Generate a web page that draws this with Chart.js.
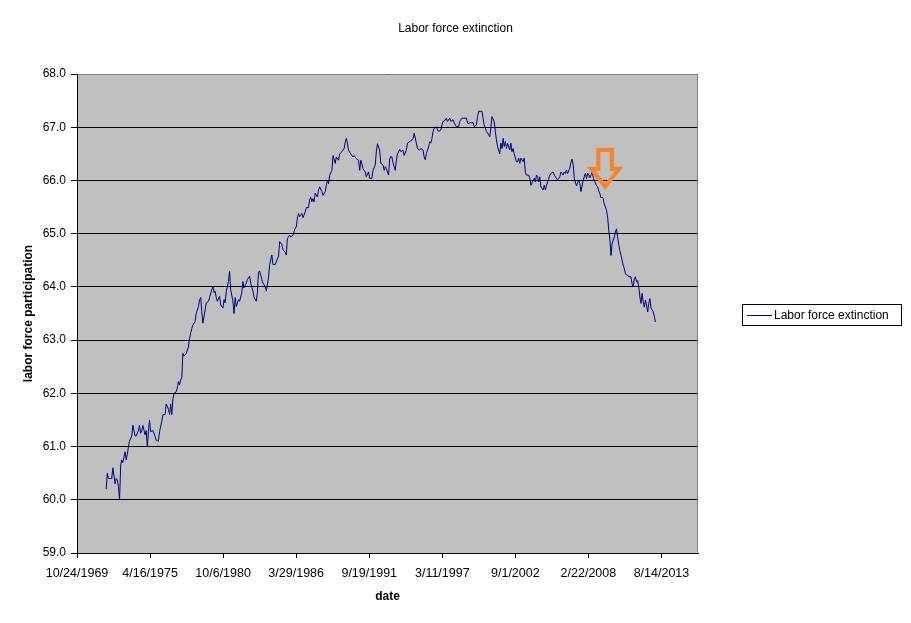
<!DOCTYPE html>
<html><head><meta charset="utf-8">
<script src="https://cdn.jsdelivr.net/npm/chart.js@4.4.1/dist/chart.umd.min.js"></script>
<style>html,body{margin:0;padding:0;background:#fff;}#wrap{width:911px;height:623px;position:relative;}</style>
</head><body><div id="wrap"><canvas id="c"></canvas></div>
<script>
const chartTitle = "Labor force extinction";
const seriesName = "Labor force extinction";
const xAxisTitle = "date";
const yAxisTitle = "labor force participation";
const xTickLabels = ["10/24/1969","4/16/1975","10/6/1980","3/29/1986","9/19/1991","3/11/1997","9/1/2002","2/22/2008","8/14/2013"];
const xAxisEnd = "5/10/2016";
const yMin = 59, yMax = 68, yStep = 1;

const dates = [
"1972-01","1972-02","1972-03","1972-06","1972-07","1972-09","1972-10","1972-11","1972-12",
"1973-01","1973-02","1973-03","1973-04","1973-05","1973-06","1973-07","1973-08","1973-09","1973-10","1973-12",
"1974-01","1974-03","1974-04","1974-06","1974-07","1974-08","1974-09","1974-10","1974-12",
"1975-01","1975-02","1975-03","1975-04","1975-05","1975-07","1975-09","1975-10","1975-12",
"1976-01","1976-03","1976-04","1976-06","1976-07","1976-09","1976-10","1976-11","1976-12",
"1977-01","1977-02","1977-04","1977-05","1977-06","1977-07","1977-08","1977-09","1977-10","1977-11",
"1978-01","1978-03","1978-04","1978-06","1978-07","1978-09","1978-10","1978-12",
"1979-01","1979-02","1979-03","1979-04","1979-06","1979-07","1979-09","1979-10","1979-12",
"1980-01","1980-02","1980-03","1980-04","1980-05","1980-07","1980-08","1980-10","1980-11","1980-12",
"1981-01","1981-03","1981-04","1981-05","1981-07","1981-08","1981-09","1981-10","1981-12",
"1982-01","1982-03","1982-04","1982-05","1982-07","1982-08","1982-10","1982-11",
"1983-01","1983-02","1983-04","1983-05","1983-06","1983-07","1983-09","1983-10","1983-12",
"1984-01","1984-03","1984-04","1984-06","1984-07","1984-09","1984-12",
"1985-01","1985-03","1985-04","1985-06","1985-07","1985-08","1985-10","1985-11",
"1986-01","1986-03","1986-04","1986-05","1986-06","1986-07","1986-09","1986-10","1986-12",
"1987-01","1987-03","1987-04","1987-05","1987-06","1987-07","1987-08","1987-09","1987-11","1987-12",
"1988-01","1988-03","1988-04","1988-06","1988-07","1988-08","1988-09","1988-10","1988-12",
"1989-01","1989-03","1989-04","1989-06","1989-07","1989-09","1989-11","1989-12",
"1990-01","1990-02","1990-03","1990-05","1990-07","1990-08","1990-10","1990-12",
"1991-01","1991-02","1991-03","1991-04","1991-06","1991-07","1991-09","1991-10","1991-12",
"1992-01","1992-03","1992-04","1992-05","1992-07","1992-08","1992-10","1992-11","1992-12",
"1993-01","1993-03","1993-04","1993-05","1993-06","1993-07","1993-09","1993-10","1993-11",
"1994-01","1994-02","1994-04","1994-05","1994-07","1994-08","1994-10","1994-12",
"1995-01","1995-02","1995-04","1995-05","1995-07","1995-08","1995-10","1995-11","1995-12",
"1996-01","1996-03","1996-04","1996-05","1996-06","1996-07","1996-08","1996-10","1996-11","1996-12",
"1997-02","1997-03","1997-04","1997-05","1997-07","1997-08","1997-10","1997-11",
"1998-01","1998-02","1998-04","1998-06","1998-07","1998-09","1998-10",
"1999-01","1999-02","1999-03","1999-04","1999-06","1999-07","1999-08","1999-10","1999-11","1999-12",
"2000-03","2000-04","2000-05","2000-07","2000-08","2000-10","2000-11","2000-12",
"2001-02","2001-03","2001-04","2001-05","2001-07","2001-08","2001-09","2001-10","2001-11","2001-12",
"2002-01","2002-02","2002-04","2002-05","2002-06","2002-07","2002-08","2002-10","2002-11","2002-12",
"2003-01","2003-02","2003-04","2003-05","2003-06","2003-07","2003-09","2003-10","2003-11",
"2004-01","2004-02","2004-03","2004-04","2004-05","2004-06","2004-07","2004-08","2004-10","2004-11","2004-12",
"2005-01","2005-02","2005-04","2005-05","2005-07","2005-08","2005-10","2005-11","2005-12",
"2006-01","2006-02","2006-04","2006-05","2006-06","2006-07","2006-08","2006-10","2006-11","2006-12",
"2007-01","2007-02","2007-04","2007-05","2007-06","2007-07","2007-08","2007-10","2007-11","2007-12",
"2008-01","2008-02","2008-03","2008-04","2008-05","2008-06","2008-07","2008-08","2008-10","2008-11","2008-12",
"2009-01","2009-02","2009-03","2009-04","2009-05","2009-06","2009-07","2009-08","2009-09","2009-10","2009-11","2009-12",
"2010-01","2010-02","2010-03","2010-04","2010-05","2010-06","2010-07","2010-08","2010-09","2010-10","2010-11","2010-12",
"2011-01","2011-02","2011-03","2011-05","2011-06","2011-07","2011-08","2011-09","2011-10","2011-11","2011-12",
"2012-01","2012-02","2012-03","2012-04","2012-05","2012-06","2012-07","2012-08","2012-09","2012-10","2012-11","2012-12",
"2013-01","2013-02","2013-03"
];

const values = [
60.2,60.5,60.4,60.4,60.6,60.3,60.4,60.37,60.25,
60.0,60.65,60.75,60.7,60.8,60.9,60.75,60.85,61.0,61.1,61.2,
61.4,61.2,61.2,61.3,61.4,61.25,61.3,61.4,61.22,
61.3,61.0,61.28,61.5,61.28,61.3,61.19,61.12,61.1,
61.28,61.47,61.6,61.6,61.8,61.7,61.6,61.8,61.6,
61.9,62.0,62.03,62.1,62.22,62.16,62.25,62.3,62.75,62.7,
62.75,62.87,63.03,63.22,63.28,63.35,63.5,63.63,
63.76,63.8,63.54,63.32,63.57,63.7,63.73,63.8,63.95,
64.01,63.89,63.92,63.8,63.73,63.82,63.66,63.6,63.76,63.7,
63.92,64.1,64.3,63.95,63.73,63.5,63.8,63.63,63.76,
63.73,63.89,64.1,63.98,64.07,64.14,64.2,64.07,
63.92,63.8,63.73,63.89,64.27,64.3,64.14,64.07,64.01,
63.92,64.17,64.42,64.6,64.42,64.42,64.58,
64.85,64.8,64.7,64.65,64.6,64.91,64.97,64.94,
64.97,65.1,65.13,65.29,65.38,65.32,65.38,65.3,65.41,
65.49,65.49,65.63,65.69,65.6,65.66,65.6,65.76,65.69,65.82,
65.88,65.79,65.72,65.79,65.91,66.0,65.94,66.1,66.19,
66.47,66.32,66.44,66.38,66.5,66.54,66.6,66.72,
66.79,66.69,66.57,66.5,66.44,66.47,66.41,66.38,
66.19,66.38,66.32,66.22,66.16,66.07,66.16,66.04,66.04,
66.19,66.29,66.54,66.69,66.57,66.32,66.29,66.19,66.26,
66.22,66.1,66.4,66.45,66.44,66.33,66.19,66.38,66.5,
66.58,66.54,66.57,66.47,66.57,66.7,66.73,66.76,
66.79,66.89,66.7,66.6,66.57,66.6,66.57,66.44,66.39,
66.51,66.63,66.73,66.7,66.79,66.92,66.98,67.01,66.95,66.92,
66.95,67.04,67.11,67.11,67.17,67.11,67.17,67.11,
67.14,67.08,67.01,67.01,67.11,67.17,67.17,
67.17,67.08,67.06,67.09,67.08,67.09,67.01,67.04,67.2,67.3,
67.3,67.17,67.04,66.92,66.89,66.82,67.0,67.2,
67.1,66.92,66.76,66.64,66.5,66.7,66.6,66.79,66.64,66.73,
66.6,66.7,66.57,66.7,66.54,66.6,66.5,66.35,66.35,66.42,
66.32,66.42,66.35,66.42,66.16,66.1,66.1,66.04,65.91,
66.0,66.04,65.97,66.1,66.07,65.97,66.07,65.88,65.82,65.91,65.82,
65.91,65.97,66.1,66.13,66.16,66.1,66.04,66.0,66.04,
66.07,66.16,66.1,66.16,66.13,66.2,66.13,66.23,66.34,66.4,
66.3,66.03,65.9,65.95,66.0,65.95,65.79,66.0,66.07,66.14,
66.03,66.14,66.1,66.05,66.1,66.16,66.06,66.0,65.9,65.88,65.8,
65.75,65.67,65.69,65.66,65.56,65.5,65.44,65.31,65.06,64.9,64.59,64.81,
64.88,64.94,65.03,65.09,64.94,64.8,64.68,64.6,64.5,64.41,64.34,64.25,
64.22,64.22,64.19,64.19,64.06,64.0,64.15,64.19,64.09,64.12,64.0,
63.81,63.69,63.88,63.72,63.62,63.75,63.66,63.53,63.69,63.78,63.6,63.57,
63.53,63.44,63.34
];

// annotation arrow (tip anchored to a date/value)
const arrowTip = { date: "5/25/2009", value: 65.88 };

const FONT = "'Liberation Sans', Arial, sans-serif";
function serialMDY(s){ const [m,d,y] = s.split('/').map(Number); return Date.UTC(y,m-1,d)/86400000 + 25569; }
function serialYM(s){ const [y,m] = s.split('-').map(Number); return Date.UTC(y,m-1,1)/86400000 + 25569; }
const xTickValues = xTickLabels.map(serialMDY);
const points = dates.map((d,i) => ({ x: serialYM(d), y: values[i] }));

const decor = {
  id: 'decor',
  beforeDraw(chart){
    const {ctx, chartArea:a} = chart;
    ctx.save();
    ctx.fillStyle = '#ffffff'; ctx.fillRect(0,0,chart.width,chart.height);
    ctx.fillStyle = '#C0C0C0'; ctx.fillRect(a.left, a.top, a.right-a.left, a.bottom-a.top);
    ctx.fillStyle = '#000'; ctx.font = '12px ' + FONT; ctx.textAlign = 'center'; ctx.textBaseline = 'middle';
    ctx.fillText(chartTitle, chart.width/2, 28.5);
    ctx.restore();
  },
  beforeDatasetsDraw(chart){
    const {ctx, chartArea:a} = chart;
    ctx.save();
    ctx.strokeStyle = '#808080'; ctx.lineWidth = 1;
    ctx.beginPath();
    ctx.moveTo(Math.round(a.left)+0.5, Math.round(a.top)+0.5);
    ctx.lineTo(Math.round(a.right)-0.5, Math.round(a.top)+0.5);
    ctx.lineTo(Math.round(a.right)-0.5, Math.round(a.bottom)-0.5);
    ctx.stroke();
    ctx.restore();
  },
  afterDatasetsDraw(chart){
    const {ctx} = chart;
    const xs = chart.scales.x, ys = chart.scales.y;
    const tx = xs.getPixelForValue(serialMDY(arrowTip.date));
    const ty = ys.getPixelForValue(arrowTip.value);
    const pts = [[-6.8,-37],[6.8,-37],[6.8,-18],[14,-18],[0,-0.5],[-14,-18],[-6.8,-18]];
    ctx.save();
    ctx.strokeStyle = '#F7852F'; ctx.lineWidth = 4.2; ctx.lineJoin = 'miter'; ctx.miterLimit = 10;
    ctx.beginPath();
    pts.forEach((p,i)=>{ const X=tx+p[0], Y=ty+p[1]; if(i===0) ctx.moveTo(X,Y); else ctx.lineTo(X,Y); });
    ctx.closePath(); ctx.stroke();
    ctx.restore();
  },
  afterDraw(chart){
    const {ctx, chartArea:a} = chart;
    const ds = chart.data.datasets[0];
    const cy = Math.round((a.top + a.bottom)/2) + 1;
    const bx = 742, bw = 159, bh = 21, by = cy - 11;
    ctx.save();
    ctx.strokeStyle = '#000'; ctx.lineWidth = 1;
    ctx.strokeRect(bx+0.5, by+0.5, bw, bh);
    ctx.strokeStyle = ds.borderColor; ctx.lineWidth = 1;
    ctx.beginPath(); ctx.moveTo(bx+5, cy+0.5); ctx.lineTo(bx+30, cy+0.5); ctx.stroke();
    ctx.fillStyle = '#000'; ctx.font = '12px ' + FONT; ctx.textBaseline = 'middle'; ctx.textAlign = 'left';
    ctx.fillText(ds.label, bx+32, cy+0.5);
    ctx.restore();
  }
};

new Chart(document.getElementById('c'), {
  type: 'line',
  data: { datasets: [{ label: seriesName, data: points, borderColor: '#000080', borderWidth: 1, pointRadius: 0, fill: false, tension: 0 }] },
  options: {
    responsive: true, maintainAspectRatio: false, animation: false,
    parsing: false, normalized: true,
    layout: { padding: { left: 0, right: 213, top: 74, bottom: 0 } },
    plugins: {
      legend: { display: false },
      tooltip: { enabled: false },
      title: { display: false }
    },
    scales: {
      x: {
        type: 'linear', min: xTickValues[0], max: serialMDY(xAxisEnd),
        afterBuildTicks: s => { s.ticks = xTickValues.map(v => ({ value: v })); },
        afterFit: s => { s.height = 70; },
        ticks: { autoSkip: false, maxRotation: 0, minRotation: 0, padding: 8, color: '#000', font: { family: FONT, size: 12.5 }, callback: (v, i) => xTickLabels[i] },
        grid: { drawOnChartArea: false, drawTicks: true, tickLength: 5, color: '#000' },
        border: { display: true, color: '#000', width: 1 },
        title: { display: true, text: xAxisTitle, color: '#000', font: { family: FONT, size: 12, weight: 'bold' }, padding: { top: 0, bottom: 19.5 } }
      },
      y: {
        min: yMin, max: yMax,
        afterFit: s => { s.width = 77; },
        ticks: { stepSize: yStep, padding: 5, color: '#000', font: { family: FONT, size: 12 }, callback: v => Number(v).toFixed(1) },
        grid: { color: '#000', lineWidth: 1, drawTicks: true, tickLength: 6 },
        border: { display: true, color: '#000', width: 1 },
        title: { display: true, text: yAxisTitle, color: '#000', font: { family: FONT, size: 12, weight: 'bold' }, padding: { top: 21, bottom: 0 } }
      }
    }
  },
  plugins: [decor]
});
</script></body></html>
